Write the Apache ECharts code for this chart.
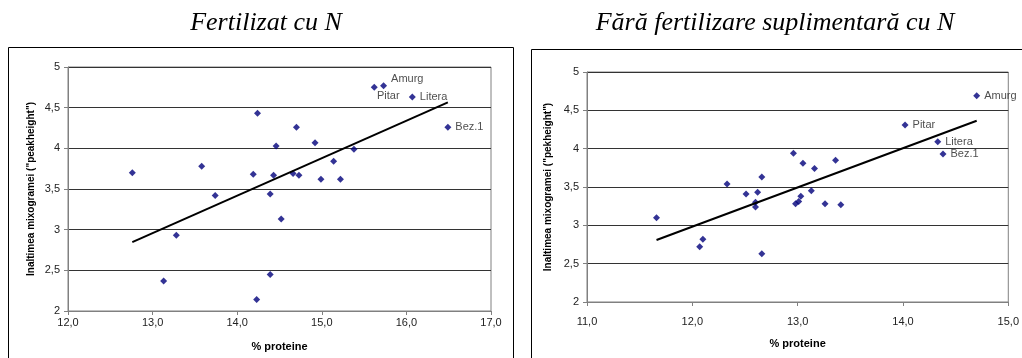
<!DOCTYPE html>
<html>
<head>
<meta charset="utf-8">
<script src="https://cdn.jsdelivr.net/npm/echarts@6/dist/echarts.min.js"></script>
<style>
html,body{margin:0;padding:0;background:#fff;}
#main{width:1022px;height:358px;}
</style>
</head>
<body>
<div id="main"></div>
<script>
// date
var leftX = [12.76,13.58,13.74,14.19,14.24,15.62,15.73,16.07,16.49,14.70,14.46,14.92,15.38,15.14,14.43,14.66,14.73,14.99,15.22,14.39,14.52,14.39,14.23,13.28,13.13];
var leftY = [3.70,3.78,3.42,3.68,4.43,4.75,4.77,4.63,4.26,4.26,4.03,4.07,3.99,3.84,3.67,3.69,3.67,3.62,3.62,3.44,3.13,2.45,2.14,2.93,2.37];
var leftNames = ['','','','','','Pitar','Amurg','Litera','Bez.1','','','','','','','','','','','','','','','',''];

var rightX = [11.66,12.33,12.51,12.62,12.66,12.60,12.60,12.07,12.10,12.66,12.96,13.05,13.16,13.36,13.13,13.03,13.01,12.98,13.26,13.41,14.02,14.33,14.38,14.70];
var rightY = [3.10,3.54,3.41,3.43,3.63,3.30,3.24,2.72,2.82,2.63,3.94,3.81,3.74,3.85,3.45,3.38,3.31,3.28,3.28,3.27,4.31,4.09,3.93,4.69];
var rightNames = ['','','','','','','','','','','','','','','','','','','','','Pitar','Litera','Bez.1','Amurg'];

var titleLeft = 'Fertilizat cu N';
var titleRight = 'Fără fertilizare suplimentară cu N';
var yNameLeft = 'Inaltimea mixogramei ("peakheight")';
var yNameRight = 'Inaltimea mixogramei ("pekheight")';
var xName = '% proteine';

var myChart = echarts.init(document.getElementById('main'));

function comma(v, d){
	return v.toFixed(d).replace('.', ',');
}

// regresie liniara (trendline)
function trend(xs, ys){
	var n = xs.length, sx = 0, sy = 0, sxx = 0, sxy = 0;
	for (var i = 0; i < n; i++) {
		sx += xs[i]; sy += ys[i];
		sxx += xs[i]*xs[i]; sxy += xs[i]*ys[i];
	}
	var b = (n*sxy - sx*sy)/(n*sxx - sx*sx);
	var a = (sy - b*sx)/n;
	var x0 = Math.min.apply(null, xs), x1 = Math.max.apply(null, xs);
	return [[x0, a + b*x0], [x1, a + b*x1]];
}

function points(xs, ys, names, special){
	var out = [];
	for (var i = 0; i < xs.length; i++) {
		var item = {value: [xs[i], ys[i]]};
		if (names[i]) {
			item.name = names[i];
			item.label = {show: true, position: 'right', distance: 4, formatter: '{b}'};
			if (special[names[i]]) item.label = Object.assign(item.label, special[names[i]]);
		}
		out.push(item);
	}
	return out;
}

function xAxisOf(idx, min, max, margin, gap){
	return {
		gridIndex: idx, type: 'value', min: min, max: max, interval: 1,
		name: xName, nameLocation: 'middle', nameGap: gap,
		nameTextStyle: {fontFamily: 'Liberation Sans', fontWeight: 'bold', fontSize: 11, color: '#000'},
		axisLine: {show: true, lineStyle: {color: '#808080'}},
		axisTick: {show: true, length: 4, lineStyle: {color: '#808080'}},
		axisLabel: {margin: margin, fontFamily: 'Liberation Sans', fontSize: 11, color: '#222',
			formatter: function(v){ return comma(v, 1); }},
		splitLine: {show: false}
	};
}

function yAxisOf(idx, name, gap){
	return {
		gridIndex: idx, type: 'value', min: 2, max: 5, interval: 0.5,
		name: name, nameLocation: 'middle', nameGap: gap,
		nameTextStyle: {fontFamily: 'Liberation Sans', fontWeight: 'bold', fontSize: 10, color: '#000'},
		axisLine: {show: true, lineStyle: {color: '#808080'}},
		axisTick: {show: true, length: 4, lineStyle: {color: '#808080'}},
		axisLabel: {margin: 8, fontFamily: 'Liberation Sans', fontSize: 11, color: '#222',
			formatter: function(v){ return v % 1 === 0 ? String(v) : comma(v, 1); }},
		splitLine: {show: true, lineStyle: {color: '#333', width: 1}}
	};
}

var scatterStyle = {color: '#00007a'};
var labelStyle = {fontFamily: 'Liberation Sans', fontSize: 11, color: '#222'};

var option = {
	animation: false,
	backgroundColor: '#fff',
	graphic: [
		{type: 'rect', shape: {x: 8.5, y: 47.5, width: 505, height: 330}, style: {fill: 'none', stroke: '#000', lineWidth: 1}},
		{type: 'rect', shape: {x: 531.5, y: 49.5, width: 520, height: 330}, style: {fill: 'none', stroke: '#000', lineWidth: 1}},
		{type: 'text', x: 266, y: 23, style: {text: titleLeft, fontFamily: 'Liberation Serif', fontStyle: 'italic', fontSize: 26, fill: '#000', textAlign: 'center', textVerticalAlign: 'middle'}},
		{type: 'text', x: 775, y: 23, style: {text: titleRight, fontFamily: 'Liberation Serif', fontStyle: 'italic', fontSize: 26, fill: '#000', textAlign: 'center', textVerticalAlign: 'middle'}}
	],
	grid: [
		{left: 68, top: 67, width: 423, height: 244, show: true, borderColor: '#808080', borderWidth: 1, backgroundColor: 'transparent'},
		{left: 587, top: 72, width: 427, height: 230, show: true, borderColor: '#808080', borderWidth: 1, backgroundColor: 'transparent'}
	],
	xAxis: [xAxisOf(0, 12, 17, 6, 30), xAxisOf(1, 11, 15, 14, 36)],
	yAxis: [yAxisOf(0, yNameLeft, 32), yAxisOf(1, yNameRight, 34)],
	series: [
		{type: 'line', xAxisIndex: 0, yAxisIndex: 0, data: trend(leftX, leftY), symbol: 'none',
			lineStyle: {color: '#000', width: 2}, silent: true},
		{type: 'line', xAxisIndex: 1, yAxisIndex: 1, data: trend(rightX, rightY), symbol: 'none',
			lineStyle: {color: '#000', width: 2}, silent: true},
		{type: 'scatter', xAxisIndex: 0, yAxisIndex: 0, symbol: 'diamond', symbolSize: 7,
			itemStyle: scatterStyle, label: labelStyle,
			data: points(leftX, leftY, leftNames, {
				'Pitar': {position: 'bottom', distance: 0, offset: [14, 0]},
				'Amurg': {offset: [0, -7]}
			})},
		{type: 'scatter', xAxisIndex: 1, yAxisIndex: 1, symbol: 'diamond', symbolSize: 7,
			itemStyle: scatterStyle, label: labelStyle,
			data: points(rightX, rightY, rightNames, {})}
	]
};
myChart.setOption(option);
</script>
</body>
</html>
